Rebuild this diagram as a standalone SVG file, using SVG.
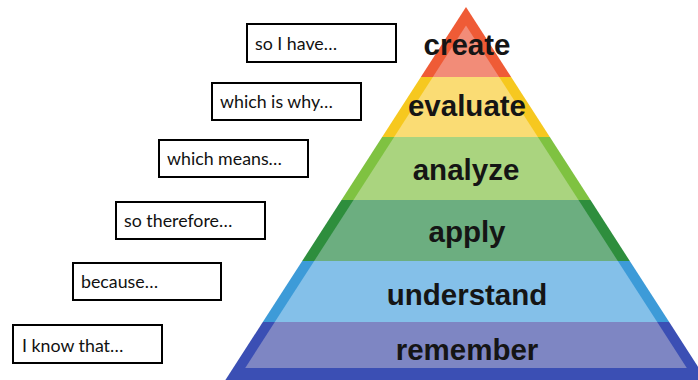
<svg xmlns="http://www.w3.org/2000/svg" width="698" height="380" viewBox="0 0 698 380">
<style>
.box rect{fill:#fff;stroke:#000;stroke-width:2}
.box text{font-family:Lato,"Liberation Sans",sans-serif;font-size:17.8px;fill:#111}
.lvl text{font-family:"Liberation Sans",Arial,sans-serif;font-weight:bold;font-size:29.5px;fill:#151515;text-anchor:middle}
</style>
<rect width="698" height="380" fill="#fff"/>
<g id="pyramid">
<g id="create" class="lvl">
<polygon points="466,7 511.15,77 420.85,77" fill="#EF5B36"/>
<polygon points="466,25.6 499.15,77 432.85,77" fill="#F28C78"/>
<text x="467" y="55">create</text>
</g>
<g id="evaluate" class="lvl">
<polygon points="420.85,77 511.15,77 549.85,137 382.15,137" fill="#F6C81F"/>
<polygon points="432.85,77 499.15,77 537.85,137 394.15,137" fill="#FADC74"/>
<text x="467" y="116">evaluate</text>
</g>
<g id="analyze" class="lvl">
<polygon points="382.15,137 549.85,137 590.5,200 341.5,200" fill="#7FC241"/>
<polygon points="394.15,137 537.85,137 578.5,200 353.5,200" fill="#AAD47F"/>
<text x="466" y="180">analyze</text>
</g>
<g id="apply" class="lvl">
<polygon points="341.5,200 590.5,200 629.8,261 302.2,261" fill="#2E8E3D"/>
<polygon points="353.5,200 578.5,200 617.8,261 314.2,261" fill="#6CAE80"/>
<text x="467" y="242">apply</text>
</g>
<g id="understand" class="lvl">
<polygon points="302.2,261 629.8,261 669.2,322 262.8,322" fill="#3D9BD8"/>
<polygon points="314.2,261 617.8,261 657.2,322 274.8,322" fill="#84C0E9"/>
<text x="467" y="305">understand</text>
</g>
<g id="remember" class="lvl">
<polygon points="262.8,322 669.2,322 706.6,380 225.4,380" fill="#3B4FB4"/>
<polygon points="274.8,322 657.2,322 686.8,368 245.2,368" fill="#7E86C3"/>
<text x="467" y="360">remember</text>
</g>
</g>
<g id="connectors"></g>
<g id="box-so-i-have" class="box">
<rect x="247" y="24" width="149" height="38"/>
<text x="255" y="50">so I have…</text>
</g>
<g id="box-which-is-why" class="box">
<rect x="212" y="83" width="149" height="37"/>
<text x="220" y="108">which is why…</text>
</g>
<g id="box-which-means" class="box">
<rect x="159" y="140" width="149" height="37"/>
<text x="167" y="165">which means…</text>
</g>
<g id="box-so-therefore" class="box">
<rect x="116" y="202" width="149" height="37"/>
<text x="124" y="227">so therefore…</text>
</g>
<g id="box-because" class="box">
<rect x="73" y="263" width="148" height="37"/>
<text x="81" y="288">because…</text>
</g>
<g id="box-i-know-that" class="box">
<rect x="13" y="325" width="149" height="38"/>
<text x="22" y="352">I know that…</text>
</g>
</svg>
